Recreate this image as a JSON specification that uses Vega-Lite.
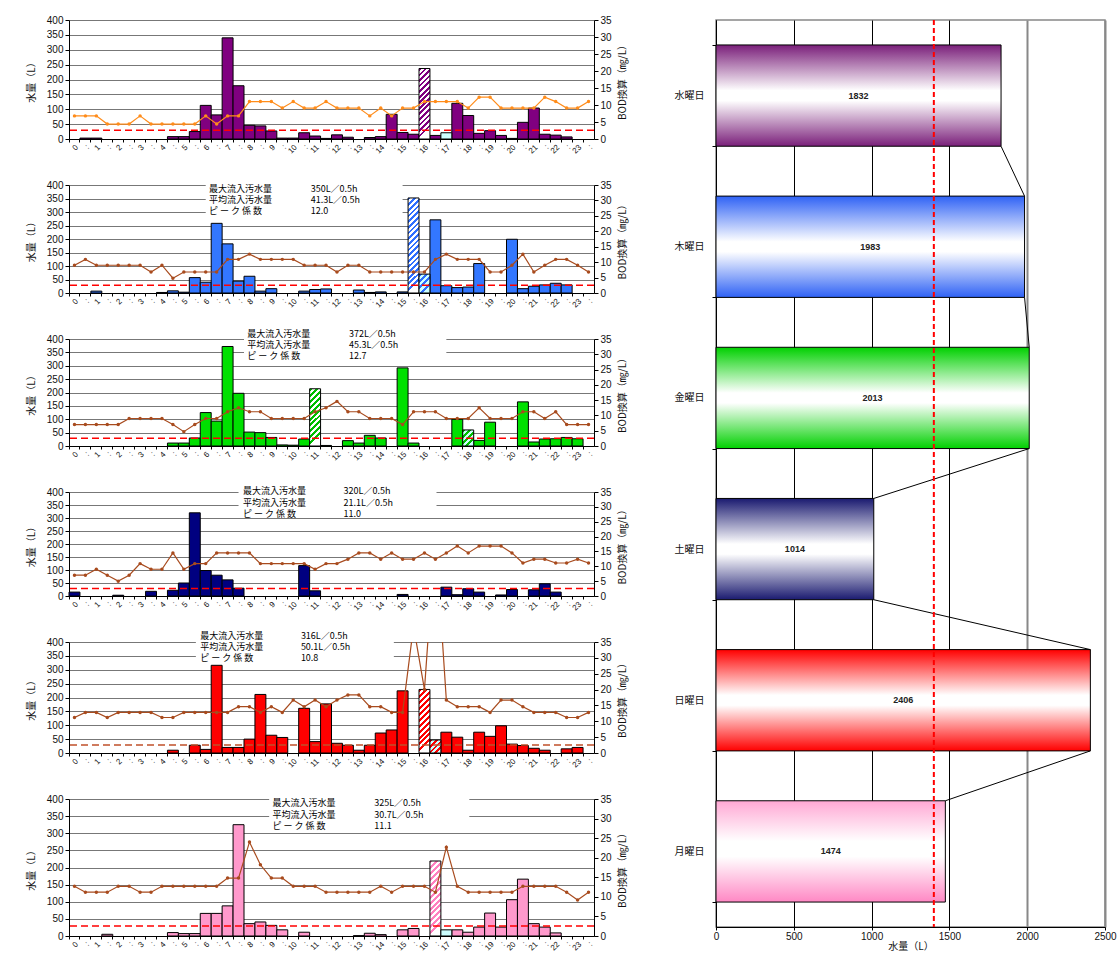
{
"$schema": "https://vega.github.io/schema/vega-lite/v6.json",
"background": "#ffffff",
"padding": {"left": 26, "top": 14, "right": 5, "bottom": 0},
"spacing": 45,
"config": {
 "view": {"stroke": null},
 "font": "Liberation Sans",
 "axis": {"labelFont": "Liberation Sans", "labelFontSize": 10, "labelColor": "#111", "titleFont": "Noto Sans CJK JP", "titleFontSize": 10, "titleFontWeight": "normal", "titleColor": "#111", "domainColor": "#000", "tickColor": "#000", "gridColor": "#777", "gridWidth": 1, "labelPadding": 2, "titlePadding": 10},
 "axisLeft": {"tickCount": 8, "labelOverlap": false},
 "axisRight": {"tickCount": 7, "labelOverlap": false},
 "text": {"font": "Noto Sans CJK JP"}
},
"datasets": {
 "p1": [{"t":0,"q":0,"b":6.8},{"t":1,"q":3,"b":6.8},{"t":2,"q":3,"b":6.8},{"t":3,"q":0,"b":4.4},{"t":4,"q":0,"b":4.4},{"t":5,"q":0,"b":4.4},{"t":6,"q":0,"b":6.8},{"t":7,"q":0,"b":4.4},{"t":8,"q":0,"b":4.4},{"t":9,"q":8,"b":4.4},{"t":10,"q":8,"b":4.4},{"t":11,"q":25,"b":4.4},{"t":12,"q":113,"b":6.8},{"t":13,"q":81,"b":4.4},{"t":14,"q":340,"b":6.8},{"t":15,"q":179,"b":6.8},{"t":16,"q":46,"b":11},{"t":17,"q":44,"b":11},{"t":18,"q":27,"b":11},{"t":19,"q":3,"b":9.1},{"t":20,"q":3,"b":11},{"t":21,"q":21,"b":9.1},{"t":22,"q":10,"b":9.1},{"t":23,"q":2,"b":11},{"t":24,"q":14,"b":9.1},{"t":25,"q":6,"b":9.1},{"t":26,"q":0,"b":9.1},{"t":27,"q":5,"b":6.8},{"t":28,"q":8,"b":9.1},{"t":29,"q":83,"b":6.8},{"t":30,"q":22,"b":9.1},{"t":31,"q":16,"b":9.1},{"t":32,"q":237,"b":11,"k":"h"},{"t":33,"q":12,"b":11},{"t":34,"q":21,"b":11,"k":"c"},{"t":35,"q":120,"b":11},{"t":36,"q":79,"b":9.1},{"t":37,"q":19,"b":12.3},{"t":38,"q":28,"b":12.3},{"t":39,"q":12,"b":9.1},{"t":40,"q":2,"b":9.1},{"t":41,"q":56,"b":9.1},{"t":42,"q":104,"b":9.1},{"t":43,"q":16,"b":12.3},{"t":44,"q":13,"b":11},{"t":45,"q":7,"b":9.1},{"t":46,"q":0,"b":9.1},{"t":47,"q":0,"b":11}],
 "p2": [{"t":0,"q":0,"b":9},{"t":1,"q":0,"b":10.9},{"t":2,"q":7,"b":9},{"t":3,"q":0,"b":9},{"t":4,"q":0,"b":9},{"t":5,"q":0,"b":9},{"t":6,"q":0,"b":9},{"t":7,"q":0,"b":6.8},{"t":8,"q":2,"b":9},{"t":9,"q":8,"b":4.8},{"t":10,"q":3,"b":6.8},{"t":11,"q":57,"b":6.8},{"t":12,"q":40,"b":6.8},{"t":13,"q":258,"b":6.8},{"t":14,"q":182,"b":10.9},{"t":15,"q":44,"b":10.9},{"t":16,"q":62,"b":12.6},{"t":17,"q":7,"b":10.9},{"t":18,"q":16,"b":10.9},{"t":19,"q":0,"b":10.9},{"t":20,"q":0,"b":10.9},{"t":21,"q":7,"b":9},{"t":22,"q":13,"b":9},{"t":23,"q":15,"b":9},{"t":24,"q":0,"b":6.8},{"t":25,"q":0,"b":9},{"t":26,"q":11,"b":9},{"t":27,"q":2,"b":6.8},{"t":28,"q":4,"b":6.8},{"t":29,"q":0,"b":6.8},{"t":30,"q":4,"b":6.8},{"t":31,"q":352,"b":6.8,"k":"h"},{"t":32,"q":70,"b":6.8,"k":"c"},{"t":33,"q":271,"b":10.9},{"t":34,"q":27,"b":12.6},{"t":35,"q":20,"b":10.9},{"t":36,"q":22,"b":10.9},{"t":37,"q":109,"b":10.9},{"t":38,"q":0,"b":6.8},{"t":39,"q":0,"b":6.8},{"t":40,"q":199,"b":9},{"t":41,"q":16,"b":12.6},{"t":42,"q":25,"b":6.8},{"t":43,"q":30,"b":9},{"t":44,"q":36,"b":10.9},{"t":45,"q":30,"b":10.9},{"t":46,"q":0,"b":9},{"t":47,"q":0,"b":6.8}],
 "p3": [{"t":0,"q":0,"b":7},{"t":1,"q":0,"b":7},{"t":2,"q":0,"b":7},{"t":3,"q":0,"b":7},{"t":4,"q":0,"b":7},{"t":5,"q":0,"b":9},{"t":6,"q":0,"b":9},{"t":7,"q":0,"b":9},{"t":8,"q":0,"b":9},{"t":9,"q":11,"b":7},{"t":10,"q":11,"b":4.7},{"t":11,"q":30,"b":7},{"t":12,"q":125,"b":9},{"t":13,"q":93,"b":9},{"t":14,"q":372,"b":11.2},{"t":15,"q":197,"b":12.5},{"t":16,"q":52,"b":11.2},{"t":17,"q":50,"b":11.2},{"t":18,"q":32,"b":9},{"t":19,"q":4,"b":9},{"t":20,"q":3,"b":9},{"t":21,"q":26,"b":9},{"t":22,"q":214,"b":11.2,"k":"h"},{"t":23,"q":2,"b":12.5},{"t":24,"q":0,"b":14.6},{"t":25,"q":20,"b":11.2},{"t":26,"q":11,"b":11.2},{"t":27,"q":40,"b":9},{"t":28,"q":30,"b":9},{"t":29,"q":0,"b":9},{"t":30,"q":292,"b":7},{"t":31,"q":11,"b":11.2},{"t":32,"q":0,"b":11.2},{"t":33,"q":0,"b":11.2},{"t":34,"q":0,"b":9},{"t":35,"q":100,"b":9},{"t":36,"q":60,"b":9,"k":"c"},{"t":37,"q":21,"b":12.5},{"t":38,"q":89,"b":9},{"t":39,"q":0,"b":9},{"t":40,"q":0,"b":9},{"t":41,"q":165,"b":11.2},{"t":42,"q":15,"b":11.2},{"t":43,"q":26,"b":9},{"t":44,"q":27,"b":11.2},{"t":45,"q":32,"b":7},{"t":46,"q":27,"b":7},{"t":47,"q":0,"b":7}],
 "p4": [{"t":0,"q":15,"b":7},{"t":1,"q":0,"b":7},{"t":2,"q":0,"b":9},{"t":3,"q":0,"b":7},{"t":4,"q":3,"b":5},{"t":5,"q":0,"b":7},{"t":6,"q":0,"b":10.9},{"t":7,"q":18,"b":9},{"t":8,"q":0,"b":9},{"t":9,"q":22,"b":14.5},{"t":10,"q":50,"b":9},{"t":11,"q":320,"b":10.9},{"t":12,"q":98,"b":10.9},{"t":13,"q":80,"b":14.5},{"t":14,"q":62,"b":14.5},{"t":15,"q":30,"b":14.5},{"t":16,"q":0,"b":14.5},{"t":17,"q":0,"b":10.9},{"t":18,"q":0,"b":10.9},{"t":19,"q":0,"b":10.9},{"t":20,"q":0,"b":10.9},{"t":21,"q":117,"b":10.9},{"t":22,"q":20,"b":9},{"t":23,"q":0,"b":10.9},{"t":24,"q":0,"b":10.9},{"t":25,"q":0,"b":12.4},{"t":26,"q":0,"b":14.5},{"t":27,"q":0,"b":14.5},{"t":28,"q":0,"b":12.4},{"t":29,"q":0,"b":14.5},{"t":30,"q":6,"b":12.4},{"t":31,"q":0,"b":12.4},{"t":32,"q":0,"b":14.5},{"t":33,"q":0,"b":12.4},{"t":34,"q":34,"b":14.5},{"t":35,"q":5,"b":16.8},{"t":36,"q":28,"b":14.5},{"t":37,"q":15,"b":16.8},{"t":38,"q":0,"b":16.8},{"t":39,"q":4,"b":16.8},{"t":40,"q":25,"b":14.5},{"t":41,"q":0,"b":11.1},{"t":42,"q":24,"b":12.4},{"t":43,"q":47,"b":12.4},{"t":44,"q":15,"b":11.1},{"t":45,"q":0,"b":11.1},{"t":46,"q":0,"b":12.4},{"t":47,"q":0,"b":11.1}],
 "p5": [{"t":0,"q":0,"b":11.2},{"t":1,"q":0,"b":12.8},{"t":2,"q":0,"b":12.8},{"t":3,"q":0,"b":11.2},{"t":4,"q":0,"b":12.8},{"t":5,"q":0,"b":12.8},{"t":6,"q":0,"b":12.8},{"t":7,"q":0,"b":12.8},{"t":8,"q":0,"b":11.2},{"t":9,"q":10,"b":11.2},{"t":10,"q":0,"b":12.8},{"t":11,"q":28,"b":12.8},{"t":12,"q":13,"b":12.8},{"t":13,"q":316,"b":12.8},{"t":14,"q":20,"b":12.8},{"t":15,"q":20,"b":14.6},{"t":16,"q":50,"b":14.6},{"t":17,"q":211,"b":12.8},{"t":18,"q":64,"b":14.6},{"t":19,"q":56,"b":12.8},{"t":20,"q":0,"b":16.7},{"t":21,"q":161,"b":14.6},{"t":22,"q":41,"b":16.7},{"t":23,"q":177,"b":14.6},{"t":24,"q":35,"b":16.7},{"t":25,"q":28,"b":18.3},{"t":26,"q":10,"b":18.3},{"t":27,"q":28,"b":14.6},{"t":28,"q":72,"b":14.6},{"t":29,"q":83,"b":12.8},{"t":30,"q":224,"b":12.8},{"t":31,"q":0,"b":40},{"t":32,"q":229,"b":20,"k":"h"},{"t":33,"q":47,"b":69,"k":"c"},{"t":34,"q":75,"b":16.7},{"t":35,"q":57,"b":14.6},{"t":36,"q":10,"b":14.6},{"t":37,"q":75,"b":14.6},{"t":38,"q":60,"b":12.8},{"t":39,"q":98,"b":16.7},{"t":40,"q":32,"b":16.7},{"t":41,"q":27,"b":14.6},{"t":42,"q":17,"b":12.8},{"t":43,"q":10,"b":12.8},{"t":44,"q":0,"b":12.8},{"t":45,"q":15,"b":11.2},{"t":46,"q":20,"b":11.2},{"t":47,"q":0,"b":12.8}],
 "p6": [{"t":0,"q":0,"b":12.7},{"t":1,"q":0,"b":11.2},{"t":2,"q":0,"b":11.2},{"t":3,"q":5,"b":11.2},{"t":4,"q":0,"b":12.7},{"t":5,"q":0,"b":12.7},{"t":6,"q":0,"b":11.2},{"t":7,"q":0,"b":11.2},{"t":8,"q":0,"b":12.7},{"t":9,"q":10,"b":12.7},{"t":10,"q":7,"b":12.7},{"t":11,"q":7,"b":12.7},{"t":12,"q":66,"b":12.7},{"t":13,"q":66,"b":12.7},{"t":14,"q":88,"b":14.8},{"t":15,"q":325,"b":14.8},{"t":16,"q":36,"b":24},{"t":17,"q":41,"b":18.2},{"t":18,"q":31,"b":14.8},{"t":19,"q":18,"b":14.8},{"t":20,"q":0,"b":12.7},{"t":21,"q":11,"b":12.7},{"t":22,"q":0,"b":12.7},{"t":23,"q":0,"b":11.2},{"t":24,"q":0,"b":11.2},{"t":25,"q":0,"b":11.2},{"t":26,"q":1,"b":11.2},{"t":27,"q":8,"b":11.2},{"t":28,"q":4,"b":12.7},{"t":29,"q":0,"b":11.2},{"t":30,"q":18,"b":12.7},{"t":31,"q":22,"b":12.7},{"t":32,"q":0,"b":12.7},{"t":33,"q":219,"b":11.2,"k":"h"},{"t":34,"q":18,"b":22.7,"k":"c"},{"t":35,"q":18,"b":12.7},{"t":36,"q":11,"b":11.2},{"t":37,"q":26,"b":11.2},{"t":38,"q":67,"b":11.2},{"t":39,"q":26,"b":11.2},{"t":40,"q":106,"b":11.2},{"t":41,"q":166,"b":12.7},{"t":42,"q":36,"b":12.7},{"t":43,"q":26,"b":12.7},{"t":44,"q":9,"b":12.7},{"t":45,"q":0,"b":11.2},{"t":46,"q":0,"b":9.2},{"t":47,"q":0,"b":11.2}],
 "days": [{"d":"水曜日","v":1832},{"d":"木曜日","v":1983},{"d":"金曜日","v":2013},{"d":"土曜日","v":1014},{"d":"日曜日","v":2406},{"d":"月曜日","v":1474}]
},
"hconcat": [
 {"bounds": "flush", "spacing": 46, "vconcat": [
  {"width": 525, "height": 119, "data": {"name": "p1"},
   "layer": [
    {"layer": [
     {"transform": [{"filter": "datum.q > 0 && !datum.k"}], "mark": {"type": "bar", "fill": "#800080", "stroke": "#000", "strokeWidth": 1},
      "encoding": {"x": {"field": "t", "type": "ordinal", "scale": {"paddingInner": 0, "paddingOuter": 0}, "axis": {"title": null, "labelAngle": -45, "labelFontSize": 8, "labelExpr": "datum.value % 2 == 0 ? toString(datum.value / 2) : ':'", "bandPosition": 0, "tickSize": 3, "labelPadding": 1}},
       "y": {"field": "q", "type": "quantitative", "scale": {"domain": [0, 400]}, "axis": {"title": "水量（L）", "grid": true, "tickSize": 4}}}},
     {"transform": [{"filter": "datum.k == 'h'"}], "mark": {"type": "bar", "stroke": "#000", "strokeWidth": 1, "fill": {"gradient": "linear", "x1": 0, "y1": 0, "x2": 0.155, "y2": 1, "stops": [{"offset":0,"color":"#800080"},{"offset":0.0385,"color":"#800080"},{"offset":0.0385,"color":"#fff"},{"offset":0.0769,"color":"#fff"},{"offset":0.0769,"color":"#800080"},{"offset":0.1154,"color":"#800080"},{"offset":0.1154,"color":"#fff"},{"offset":0.1538,"color":"#fff"},{"offset":0.1538,"color":"#800080"},{"offset":0.1923,"color":"#800080"},{"offset":0.1923,"color":"#fff"},{"offset":0.2308,"color":"#fff"},{"offset":0.2308,"color":"#800080"},{"offset":0.2692,"color":"#800080"},{"offset":0.2692,"color":"#fff"},{"offset":0.3077,"color":"#fff"},{"offset":0.3077,"color":"#800080"},{"offset":0.3462,"color":"#800080"},{"offset":0.3462,"color":"#fff"},{"offset":0.3846,"color":"#fff"},{"offset":0.3846,"color":"#800080"},{"offset":0.4231,"color":"#800080"},{"offset":0.4231,"color":"#fff"},{"offset":0.4615,"color":"#fff"},{"offset":0.4615,"color":"#800080"},{"offset":0.5,"color":"#800080"},{"offset":0.5,"color":"#fff"},{"offset":0.5385,"color":"#fff"},{"offset":0.5385,"color":"#800080"},{"offset":0.5769,"color":"#800080"},{"offset":0.5769,"color":"#fff"},{"offset":0.6154,"color":"#fff"},{"offset":0.6154,"color":"#800080"},{"offset":0.6538,"color":"#800080"},{"offset":0.6538,"color":"#fff"},{"offset":0.6923,"color":"#fff"},{"offset":0.6923,"color":"#800080"},{"offset":0.7308,"color":"#800080"},{"offset":0.7308,"color":"#fff"},{"offset":0.7692,"color":"#fff"},{"offset":0.7692,"color":"#800080"},{"offset":0.8077,"color":"#800080"},{"offset":0.8077,"color":"#fff"},{"offset":0.8462,"color":"#fff"},{"offset":0.8462,"color":"#800080"},{"offset":0.8846,"color":"#800080"},{"offset":0.8846,"color":"#fff"},{"offset":0.9231,"color":"#fff"},{"offset":0.9231,"color":"#800080"},{"offset":0.9615,"color":"#800080"},{"offset":0.9615,"color":"#fff"},{"offset":1,"color":"#fff"}]}},
      "encoding": {"x": {"field": "t", "type": "ordinal"}, "y": {"field": "q", "type": "quantitative"}}},
     {"transform": [{"filter": "datum.k == 'c'"}], "mark": {"type": "bar", "fill": "#CCFFFF", "stroke": "#000", "strokeWidth": 1},
      "encoding": {"x": {"field": "t", "type": "ordinal"}, "y": {"field": "q", "type": "quantitative"}}},
     {"data": {"values": [{}]}, "mark": {"type": "rule", "stroke": "#FF0000", "strokeDash": [7, 4], "strokeWidth": 1.5}, "encoding": {"y": {"datum": 29, "type": "quantitative"}}}
    ]},
    {"layer": [
     {"mark": {"type": "line", "stroke": "#FF8C1A", "strokeWidth": 1.2, "clip": true},
      "encoding": {"x": {"field": "t", "type": "ordinal"}, "y": {"field": "b", "type": "quantitative", "scale": {"domain": [0, 35]}, "axis": {"orient": "right", "title": "BOD換算（㎎/L）", "titleAngle": -90, "titleBaseline": "top", "titlePadding": 6, "grid": false, "tickSize": 4}}}},
     {"mark": {"type": "point", "filled": true, "fill": "#FF8C1A", "size": 12, "opacity": 1, "clip": true},
      "encoding": {"x": {"field": "t", "type": "ordinal"}, "y": {"field": "b", "type": "quantitative"}}}
    ]}
   ],
   "resolve": {"scale": {"y": "independent"}}},

  {"width": 525, "height": 108, "data": {"name": "p2"},
   "layer": [
    {"layer": [
     {"transform": [{"filter": "datum.q > 0 && !datum.k"}], "mark": {"type": "bar", "fill": "#3377FF", "stroke": "#000", "strokeWidth": 1},
      "encoding": {"x": {"field": "t", "type": "ordinal", "scale": {"paddingInner": 0, "paddingOuter": 0}, "axis": {"title": null, "labelAngle": -45, "labelFontSize": 8, "labelExpr": "datum.value % 2 == 0 ? toString(datum.value / 2) : ':'", "bandPosition": 0, "tickSize": 3, "labelPadding": 1}},
       "y": {"field": "q", "type": "quantitative", "scale": {"domain": [0, 400]}, "axis": {"title": "水量（L）", "grid": true, "tickSize": 4}}}},
     {"transform": [{"filter": "datum.k == 'h'"}], "mark": {"type": "bar", "stroke": "#000", "strokeWidth": 1, "fill": {"gradient": "linear", "x1": 0, "y1": 0, "x2": 0.115, "y2": 1, "stops": [{"offset":0,"color":"#2F6FFF"},{"offset":0.0294,"color":"#2F6FFF"},{"offset":0.0294,"color":"#fff"},{"offset":0.0588,"color":"#fff"},{"offset":0.0588,"color":"#2F6FFF"},{"offset":0.0882,"color":"#2F6FFF"},{"offset":0.0882,"color":"#fff"},{"offset":0.1176,"color":"#fff"},{"offset":0.1176,"color":"#2F6FFF"},{"offset":0.1471,"color":"#2F6FFF"},{"offset":0.1471,"color":"#fff"},{"offset":0.1765,"color":"#fff"},{"offset":0.1765,"color":"#2F6FFF"},{"offset":0.2059,"color":"#2F6FFF"},{"offset":0.2059,"color":"#fff"},{"offset":0.2353,"color":"#fff"},{"offset":0.2353,"color":"#2F6FFF"},{"offset":0.2647,"color":"#2F6FFF"},{"offset":0.2647,"color":"#fff"},{"offset":0.2941,"color":"#fff"},{"offset":0.2941,"color":"#2F6FFF"},{"offset":0.3235,"color":"#2F6FFF"},{"offset":0.3235,"color":"#fff"},{"offset":0.3529,"color":"#fff"},{"offset":0.3529,"color":"#2F6FFF"},{"offset":0.3824,"color":"#2F6FFF"},{"offset":0.3824,"color":"#fff"},{"offset":0.4118,"color":"#fff"},{"offset":0.4118,"color":"#2F6FFF"},{"offset":0.4412,"color":"#2F6FFF"},{"offset":0.4412,"color":"#fff"},{"offset":0.4706,"color":"#fff"},{"offset":0.4706,"color":"#2F6FFF"},{"offset":0.5,"color":"#2F6FFF"},{"offset":0.5,"color":"#fff"},{"offset":0.5294,"color":"#fff"},{"offset":0.5294,"color":"#2F6FFF"},{"offset":0.5588,"color":"#2F6FFF"},{"offset":0.5588,"color":"#fff"},{"offset":0.5882,"color":"#fff"},{"offset":0.5882,"color":"#2F6FFF"},{"offset":0.6176,"color":"#2F6FFF"},{"offset":0.6176,"color":"#fff"},{"offset":0.6471,"color":"#fff"},{"offset":0.6471,"color":"#2F6FFF"},{"offset":0.6765,"color":"#2F6FFF"},{"offset":0.6765,"color":"#fff"},{"offset":0.7059,"color":"#fff"},{"offset":0.7059,"color":"#2F6FFF"},{"offset":0.7353,"color":"#2F6FFF"},{"offset":0.7353,"color":"#fff"},{"offset":0.7647,"color":"#fff"},{"offset":0.7647,"color":"#2F6FFF"},{"offset":0.7941,"color":"#2F6FFF"},{"offset":0.7941,"color":"#fff"},{"offset":0.8235,"color":"#fff"},{"offset":0.8235,"color":"#2F6FFF"},{"offset":0.8529,"color":"#2F6FFF"},{"offset":0.8529,"color":"#fff"},{"offset":0.8824,"color":"#fff"},{"offset":0.8824,"color":"#2F6FFF"},{"offset":0.9118,"color":"#2F6FFF"},{"offset":0.9118,"color":"#fff"},{"offset":0.9412,"color":"#fff"},{"offset":0.9412,"color":"#2F6FFF"},{"offset":0.9706,"color":"#2F6FFF"},{"offset":0.9706,"color":"#fff"},{"offset":1,"color":"#fff"}]}},
      "encoding": {"x": {"field": "t", "type": "ordinal"}, "y": {"field": "q", "type": "quantitative"}}},
     {"transform": [{"filter": "datum.k == 'c'"}], "mark": {"type": "bar", "stroke": "#000", "strokeWidth": 1, "fill": {"gradient": "linear", "x1": 0, "y1": 0, "x2": 0.58, "y2": 1, "stops": [{"offset":0,"color":"#2F6FFF"},{"offset":0.125,"color":"#2F6FFF"},{"offset":0.125,"color":"#CCFFFF"},{"offset":0.25,"color":"#CCFFFF"},{"offset":0.25,"color":"#2F6FFF"},{"offset":0.375,"color":"#2F6FFF"},{"offset":0.375,"color":"#CCFFFF"},{"offset":0.5,"color":"#CCFFFF"},{"offset":0.5,"color":"#2F6FFF"},{"offset":0.625,"color":"#2F6FFF"},{"offset":0.625,"color":"#CCFFFF"},{"offset":0.75,"color":"#CCFFFF"},{"offset":0.75,"color":"#2F6FFF"},{"offset":0.875,"color":"#2F6FFF"},{"offset":0.875,"color":"#CCFFFF"},{"offset":1,"color":"#CCFFFF"}]}},
      "encoding": {"x": {"field": "t", "type": "ordinal"}, "y": {"field": "q", "type": "quantitative"}}},
     {"data": {"values": [{}]}, "mark": {"type": "rule", "stroke": "#FF0000", "strokeDash": [7, 4], "strokeWidth": 1.5}, "encoding": {"y": {"datum": 29, "type": "quantitative"}}},
     {"data": {"values": [{}]}, "mark": {"type": "rect", "fill": "#fff"}, "encoding": {"x": {"datum": 12, "type": "ordinal", "bandPosition": 0.5}, "x2": {"datum": 30, "bandPosition": 0.5}, "y": {"datum": 405, "type": "quantitative"}, "y2": {"datum": 292}}},
     {"data": {"values": [{}]}, "mark": {"type": "text", "align": "left", "baseline": "top", "fontSize": 9, "lineHeight": 11, "fill": "#000", "text": ["最大流入汚水量", "平均流入汚水量", "ピ ー ク 係 数"]}, "encoding": {"x": {"datum": 12, "type": "ordinal", "bandPosition": 0.8}, "y": {"datum": 400, "type": "quantitative"}}},
     {"data": {"values": [{}]}, "mark": {"type": "text", "align": "left", "baseline": "top", "fontSize": 9, "lineHeight": 11, "fill": "#000", "text": ["350L／0.5h", "41.3L／0.5h", "12.0"]}, "encoding": {"x": {"datum": 22, "type": "ordinal", "bandPosition": 0.1}, "y": {"datum": 400, "type": "quantitative"}}}
    ]},
    {"layer": [
     {"mark": {"type": "line", "stroke": "#A84B1E", "strokeWidth": 1.2, "clip": true},
      "encoding": {"x": {"field": "t", "type": "ordinal"}, "y": {"field": "b", "type": "quantitative", "scale": {"domain": [0, 35]}, "axis": {"orient": "right", "title": "BOD換算（㎎/L）", "titleAngle": -90, "titleBaseline": "top", "titlePadding": 6, "grid": false, "tickSize": 4}}}},
     {"mark": {"type": "point", "filled": true, "fill": "#A84B1E", "size": 12, "opacity": 1, "clip": true},
      "encoding": {"x": {"field": "t", "type": "ordinal"}, "y": {"field": "b", "type": "quantitative"}}}
    ]}
   ],
   "resolve": {"scale": {"y": "independent"}}},

  {"width": 525, "height": 107, "data": {"name": "p3"},
   "layer": [
    {"layer": [
     {"transform": [{"filter": "datum.q > 0 && !datum.k"}], "mark": {"type": "bar", "fill": "#00E000", "stroke": "#000", "strokeWidth": 1},
      "encoding": {"x": {"field": "t", "type": "ordinal", "scale": {"paddingInner": 0, "paddingOuter": 0}, "axis": {"title": null, "labelAngle": -45, "labelFontSize": 8, "labelExpr": "datum.value % 2 == 0 ? toString(datum.value / 2) : ':'", "bandPosition": 0, "tickSize": 3, "labelPadding": 1}},
       "y": {"field": "q", "type": "quantitative", "scale": {"domain": [0, 400]}, "axis": {"title": "水量（L）", "grid": true, "tickSize": 4}}}},
     {"transform": [{"filter": "datum.k == 'h'"}], "mark": {"type": "bar", "stroke": "#000", "strokeWidth": 1, "fill": {"gradient": "linear", "x1": 0, "y1": 0, "x2": 0.19, "y2": 1, "stops": [{"offset":0,"color":"#00C000"},{"offset":0.05,"color":"#00C000"},{"offset":0.05,"color":"#fff"},{"offset":0.1,"color":"#fff"},{"offset":0.1,"color":"#00C000"},{"offset":0.15,"color":"#00C000"},{"offset":0.15,"color":"#fff"},{"offset":0.2,"color":"#fff"},{"offset":0.2,"color":"#00C000"},{"offset":0.25,"color":"#00C000"},{"offset":0.25,"color":"#fff"},{"offset":0.3,"color":"#fff"},{"offset":0.3,"color":"#00C000"},{"offset":0.35,"color":"#00C000"},{"offset":0.35,"color":"#fff"},{"offset":0.4,"color":"#fff"},{"offset":0.4,"color":"#00C000"},{"offset":0.45,"color":"#00C000"},{"offset":0.45,"color":"#fff"},{"offset":0.5,"color":"#fff"},{"offset":0.5,"color":"#00C000"},{"offset":0.55,"color":"#00C000"},{"offset":0.55,"color":"#fff"},{"offset":0.6,"color":"#fff"},{"offset":0.6,"color":"#00C000"},{"offset":0.65,"color":"#00C000"},{"offset":0.65,"color":"#fff"},{"offset":0.7,"color":"#fff"},{"offset":0.7,"color":"#00C000"},{"offset":0.75,"color":"#00C000"},{"offset":0.75,"color":"#fff"},{"offset":0.8,"color":"#fff"},{"offset":0.8,"color":"#00C000"},{"offset":0.85,"color":"#00C000"},{"offset":0.85,"color":"#fff"},{"offset":0.9,"color":"#fff"},{"offset":0.9,"color":"#00C000"},{"offset":0.95,"color":"#00C000"},{"offset":0.95,"color":"#fff"},{"offset":1,"color":"#fff"}]}},
      "encoding": {"x": {"field": "t", "type": "ordinal"}, "y": {"field": "q", "type": "quantitative"}}},
     {"transform": [{"filter": "datum.k == 'c'"}], "mark": {"type": "bar", "stroke": "#000", "strokeWidth": 1, "fill": {"gradient": "linear", "x1": 0, "y1": 0, "x2": 0.68, "y2": 1, "stops": [{"offset":0,"color":"#00C000"},{"offset":0.125,"color":"#00C000"},{"offset":0.125,"color":"#CCFFFF"},{"offset":0.25,"color":"#CCFFFF"},{"offset":0.25,"color":"#00C000"},{"offset":0.375,"color":"#00C000"},{"offset":0.375,"color":"#CCFFFF"},{"offset":0.5,"color":"#CCFFFF"},{"offset":0.5,"color":"#00C000"},{"offset":0.625,"color":"#00C000"},{"offset":0.625,"color":"#CCFFFF"},{"offset":0.75,"color":"#CCFFFF"},{"offset":0.75,"color":"#00C000"},{"offset":0.875,"color":"#00C000"},{"offset":0.875,"color":"#CCFFFF"},{"offset":1,"color":"#CCFFFF"}]}},
      "encoding": {"x": {"field": "t", "type": "ordinal"}, "y": {"field": "q", "type": "quantitative"}}},
     {"data": {"values": [{}]}, "mark": {"type": "rule", "stroke": "#FF0000", "strokeDash": [7, 4], "strokeWidth": 1.5}, "encoding": {"y": {"datum": 29, "type": "quantitative"}}},
     {"data": {"values": [{}]}, "mark": {"type": "rect", "fill": "#fff"}, "encoding": {"x": {"datum": 16, "type": "ordinal", "bandPosition": 0}, "x2": {"datum": 34, "bandPosition": 0.5}, "y": {"datum": 438, "type": "quantitative"}, "y2": {"datum": 318}}},
     {"data": {"values": [{}]}, "mark": {"type": "text", "align": "left", "baseline": "top", "fontSize": 9, "lineHeight": 11, "fill": "#000", "text": ["最大流入汚水量", "平均流入汚水量", "ピ ー ク 係 数"]}, "encoding": {"x": {"datum": 16, "type": "ordinal", "bandPosition": 0.3}, "y": {"datum": 434, "type": "quantitative"}}},
     {"data": {"values": [{}]}, "mark": {"type": "text", "align": "left", "baseline": "top", "fontSize": 9, "lineHeight": 11, "fill": "#000", "text": ["372L／0.5h", "45.3L／0.5h", "12.7"]}, "encoding": {"x": {"datum": 25, "type": "ordinal", "bandPosition": 0.6}, "y": {"datum": 434, "type": "quantitative"}}}
    ]},
    {"layer": [
     {"mark": {"type": "line", "stroke": "#A84B1E", "strokeWidth": 1.2, "clip": true},
      "encoding": {"x": {"field": "t", "type": "ordinal"}, "y": {"field": "b", "type": "quantitative", "scale": {"domain": [0, 35]}, "axis": {"orient": "right", "title": "BOD換算（㎎/L）", "titleAngle": -90, "titleBaseline": "top", "titlePadding": 6, "grid": false, "tickSize": 4}}}},
     {"mark": {"type": "point", "filled": true, "fill": "#A84B1E", "size": 12, "opacity": 1, "clip": true},
      "encoding": {"x": {"field": "t", "type": "ordinal"}, "y": {"field": "b", "type": "quantitative"}}}
    ]}
   ],
   "resolve": {"scale": {"y": "independent"}}},

  {"width": 525, "height": 104, "data": {"name": "p4"},
   "layer": [
    {"layer": [
     {"transform": [{"filter": "datum.q > 0 && !datum.k"}], "mark": {"type": "bar", "fill": "#000080", "stroke": "#000", "strokeWidth": 1},
      "encoding": {"x": {"field": "t", "type": "ordinal", "scale": {"paddingInner": 0, "paddingOuter": 0}, "axis": {"title": null, "labelAngle": -45, "labelFontSize": 8, "labelExpr": "datum.value % 2 == 0 ? toString(datum.value / 2) : ':'", "bandPosition": 0, "tickSize": 3, "labelPadding": 1}},
       "y": {"field": "q", "type": "quantitative", "scale": {"domain": [0, 400]}, "axis": {"title": "水量（L）", "grid": true, "tickSize": 4}}}},
     {"data": {"values": [{}]}, "mark": {"type": "rule", "stroke": "#FF0000", "strokeDash": [7, 4], "strokeWidth": 1.5}, "encoding": {"y": {"datum": 29, "type": "quantitative"}}},
     {"data": {"values": [{}]}, "mark": {"type": "rect", "fill": "#fff"}, "encoding": {"x": {"datum": 15, "type": "ordinal", "bandPosition": 0.5}, "x2": {"datum": 33, "bandPosition": 0.6}, "y": {"datum": 419, "type": "quantitative"}, "y2": {"datum": 300}}},
     {"data": {"values": [{}]}, "mark": {"type": "text", "align": "left", "baseline": "top", "fontSize": 9, "lineHeight": 11.5, "fill": "#000", "text": ["最大流入汚水量", "平均流入汚水量", "ピ ー ク 係 数"]}, "encoding": {"x": {"datum": 15, "type": "ordinal", "bandPosition": 0.9}, "y": {"datum": 419, "type": "quantitative"}}},
     {"data": {"values": [{}]}, "mark": {"type": "text", "align": "left", "baseline": "top", "fontSize": 9, "lineHeight": 11.5, "fill": "#000", "text": ["320L／0.5h", "21.1L／0.5h", "11.0"]}, "encoding": {"x": {"datum": 25, "type": "ordinal", "bandPosition": 0.1}, "y": {"datum": 419, "type": "quantitative"}}}
    ]},
    {"layer": [
     {"mark": {"type": "line", "stroke": "#A84B1E", "strokeWidth": 1.2, "clip": true},
      "encoding": {"x": {"field": "t", "type": "ordinal"}, "y": {"field": "b", "type": "quantitative", "scale": {"domain": [0, 35]}, "axis": {"orient": "right", "title": "BOD換算（㎎/L）", "titleAngle": -90, "titleBaseline": "top", "titlePadding": 6, "grid": false, "tickSize": 4}}}},
     {"mark": {"type": "point", "filled": true, "fill": "#A84B1E", "size": 12, "opacity": 1, "clip": true},
      "encoding": {"x": {"field": "t", "type": "ordinal"}, "y": {"field": "b", "type": "quantitative"}}}
    ]}
   ],
   "resolve": {"scale": {"y": "independent"}}},

  {"width": 525, "height": 111, "data": {"name": "p5"},
   "layer": [
    {"layer": [
     {"transform": [{"filter": "datum.q > 0 && !datum.k"}], "mark": {"type": "bar", "fill": "#FF0000", "stroke": "#000", "strokeWidth": 1},
      "encoding": {"x": {"field": "t", "type": "ordinal", "scale": {"paddingInner": 0, "paddingOuter": 0}, "axis": {"title": null, "labelAngle": -45, "labelFontSize": 8, "labelExpr": "datum.value % 2 == 0 ? toString(datum.value / 2) : ':'", "bandPosition": 0, "tickSize": 3, "labelPadding": 1}},
       "y": {"field": "q", "type": "quantitative", "scale": {"domain": [0, 400]}, "axis": {"title": "水量（L）", "grid": true, "tickSize": 4}}}},
     {"transform": [{"filter": "datum.k == 'h'"}], "mark": {"type": "bar", "stroke": "#000", "strokeWidth": 1, "fill": {"gradient": "linear", "x1": 0, "y1": 0, "x2": 0.172, "y2": 1, "stops": [{"offset":0,"color":"#FF0000"},{"offset":0.0455,"color":"#FF0000"},{"offset":0.0455,"color":"#fff"},{"offset":0.0909,"color":"#fff"},{"offset":0.0909,"color":"#FF0000"},{"offset":0.1364,"color":"#FF0000"},{"offset":0.1364,"color":"#fff"},{"offset":0.1818,"color":"#fff"},{"offset":0.1818,"color":"#FF0000"},{"offset":0.2273,"color":"#FF0000"},{"offset":0.2273,"color":"#fff"},{"offset":0.2727,"color":"#fff"},{"offset":0.2727,"color":"#FF0000"},{"offset":0.3182,"color":"#FF0000"},{"offset":0.3182,"color":"#fff"},{"offset":0.3636,"color":"#fff"},{"offset":0.3636,"color":"#FF0000"},{"offset":0.4091,"color":"#FF0000"},{"offset":0.4091,"color":"#fff"},{"offset":0.4545,"color":"#fff"},{"offset":0.4545,"color":"#FF0000"},{"offset":0.5,"color":"#FF0000"},{"offset":0.5,"color":"#fff"},{"offset":0.5455,"color":"#fff"},{"offset":0.5455,"color":"#FF0000"},{"offset":0.5909,"color":"#FF0000"},{"offset":0.5909,"color":"#fff"},{"offset":0.6364,"color":"#fff"},{"offset":0.6364,"color":"#FF0000"},{"offset":0.6818,"color":"#FF0000"},{"offset":0.6818,"color":"#fff"},{"offset":0.7273,"color":"#fff"},{"offset":0.7273,"color":"#FF0000"},{"offset":0.7727,"color":"#FF0000"},{"offset":0.7727,"color":"#fff"},{"offset":0.8182,"color":"#fff"},{"offset":0.8182,"color":"#FF0000"},{"offset":0.8636,"color":"#FF0000"},{"offset":0.8636,"color":"#fff"},{"offset":0.9091,"color":"#fff"},{"offset":0.9091,"color":"#FF0000"},{"offset":0.9545,"color":"#FF0000"},{"offset":0.9545,"color":"#fff"},{"offset":1,"color":"#fff"}]}},
      "encoding": {"x": {"field": "t", "type": "ordinal"}, "y": {"field": "q", "type": "quantitative"}}},
     {"transform": [{"filter": "datum.k == 'c'"}], "mark": {"type": "bar", "stroke": "#000", "strokeWidth": 1, "fill": {"gradient": "linear", "x1": 0, "y1": 0, "x2": 0.84, "y2": 1, "stops": [{"offset":0,"color":"#FF0000"},{"offset":0.125,"color":"#FF0000"},{"offset":0.125,"color":"#CCFFFF"},{"offset":0.25,"color":"#CCFFFF"},{"offset":0.25,"color":"#FF0000"},{"offset":0.375,"color":"#FF0000"},{"offset":0.375,"color":"#CCFFFF"},{"offset":0.5,"color":"#CCFFFF"},{"offset":0.5,"color":"#FF0000"},{"offset":0.625,"color":"#FF0000"},{"offset":0.625,"color":"#CCFFFF"},{"offset":0.75,"color":"#CCFFFF"},{"offset":0.75,"color":"#FF0000"},{"offset":0.875,"color":"#FF0000"},{"offset":0.875,"color":"#CCFFFF"},{"offset":1,"color":"#CCFFFF"}]}},
      "encoding": {"x": {"field": "t", "type": "ordinal"}, "y": {"field": "q", "type": "quantitative"}}},
     {"data": {"values": [{}]}, "mark": {"type": "rule", "stroke": "#C0502A", "strokeDash": [7, 4], "strokeWidth": 1.5}, "encoding": {"y": {"datum": 29, "type": "quantitative"}}},
     {"data": {"values": [{}]}, "mark": {"type": "rect", "fill": "#fff"}, "encoding": {"x": {"datum": 11, "type": "ordinal", "bandPosition": 0.6}, "x2": {"datum": 29, "bandPosition": 0.7}, "y": {"datum": 440, "type": "quantitative"}, "y2": {"datum": 325}}},
     {"data": {"values": [{}]}, "mark": {"type": "text", "align": "left", "baseline": "top", "fontSize": 9, "lineHeight": 11, "fill": "#000", "text": ["最大流入汚水量", "平均流入汚水量", "ピ ー ク 係 数"]}, "encoding": {"x": {"datum": 12, "type": "ordinal", "bandPosition": 0}, "y": {"datum": 436, "type": "quantitative"}}},
     {"data": {"values": [{}]}, "mark": {"type": "text", "align": "left", "baseline": "top", "fontSize": 9, "lineHeight": 11, "fill": "#000", "text": ["316L／0.5h", "50.1L／0.5h", "10.8"]}, "encoding": {"x": {"datum": 21, "type": "ordinal", "bandPosition": 0.2}, "y": {"datum": 436, "type": "quantitative"}}}
    ]},
    {"layer": [
     {"mark": {"type": "line", "stroke": "#A84B1E", "strokeWidth": 1.2, "clip": true},
      "encoding": {"x": {"field": "t", "type": "ordinal"}, "y": {"field": "b", "type": "quantitative", "scale": {"domain": [0, 35]}, "axis": {"orient": "right", "title": "BOD換算（㎎/L）", "titleAngle": -90, "titleBaseline": "top", "titlePadding": 6, "grid": false, "tickSize": 4}}}},
     {"mark": {"type": "point", "filled": true, "fill": "#A84B1E", "size": 12, "opacity": 1, "clip": true},
      "encoding": {"x": {"field": "t", "type": "ordinal"}, "y": {"field": "b", "type": "quantitative"}}}
    ]}
   ],
   "resolve": {"scale": {"y": "independent"}}},

  {"width": 525, "height": 137, "data": {"name": "p6"},
   "layer": [
    {"layer": [
     {"transform": [{"filter": "datum.q > 0 && !datum.k"}], "mark": {"type": "bar", "fill": "#FF99CC", "stroke": "#000", "strokeWidth": 1},
      "encoding": {"x": {"field": "t", "type": "ordinal", "scale": {"paddingInner": 0, "paddingOuter": 0}, "axis": {"title": null, "labelAngle": -45, "labelFontSize": 8, "labelExpr": "datum.value % 2 == 0 ? toString(datum.value / 2) : ':'", "bandPosition": 0, "tickSize": 3, "labelPadding": 1}},
       "y": {"field": "q", "type": "quantitative", "scale": {"domain": [0, 400]}, "axis": {"title": "水量（L）", "grid": true, "tickSize": 4}}}},
     {"transform": [{"filter": "datum.k == 'h'"}], "mark": {"type": "bar", "stroke": "#000", "strokeWidth": 1, "fill": {"gradient": "linear", "x1": 0, "y1": 0, "x2": 0.146, "y2": 1, "stops": [{"offset":0,"color":"#FF80BF"},{"offset":0.0385,"color":"#FF80BF"},{"offset":0.0385,"color":"#fff"},{"offset":0.0769,"color":"#fff"},{"offset":0.0769,"color":"#FF80BF"},{"offset":0.1154,"color":"#FF80BF"},{"offset":0.1154,"color":"#fff"},{"offset":0.1538,"color":"#fff"},{"offset":0.1538,"color":"#FF80BF"},{"offset":0.1923,"color":"#FF80BF"},{"offset":0.1923,"color":"#fff"},{"offset":0.2308,"color":"#fff"},{"offset":0.2308,"color":"#FF80BF"},{"offset":0.2692,"color":"#FF80BF"},{"offset":0.2692,"color":"#fff"},{"offset":0.3077,"color":"#fff"},{"offset":0.3077,"color":"#FF80BF"},{"offset":0.3462,"color":"#FF80BF"},{"offset":0.3462,"color":"#fff"},{"offset":0.3846,"color":"#fff"},{"offset":0.3846,"color":"#FF80BF"},{"offset":0.4231,"color":"#FF80BF"},{"offset":0.4231,"color":"#fff"},{"offset":0.4615,"color":"#fff"},{"offset":0.4615,"color":"#FF80BF"},{"offset":0.5,"color":"#FF80BF"},{"offset":0.5,"color":"#fff"},{"offset":0.5385,"color":"#fff"},{"offset":0.5385,"color":"#FF80BF"},{"offset":0.5769,"color":"#FF80BF"},{"offset":0.5769,"color":"#fff"},{"offset":0.6154,"color":"#fff"},{"offset":0.6154,"color":"#FF80BF"},{"offset":0.6538,"color":"#FF80BF"},{"offset":0.6538,"color":"#fff"},{"offset":0.6923,"color":"#fff"},{"offset":0.6923,"color":"#FF80BF"},{"offset":0.7308,"color":"#FF80BF"},{"offset":0.7308,"color":"#fff"},{"offset":0.7692,"color":"#fff"},{"offset":0.7692,"color":"#FF80BF"},{"offset":0.8077,"color":"#FF80BF"},{"offset":0.8077,"color":"#fff"},{"offset":0.8462,"color":"#fff"},{"offset":0.8462,"color":"#FF80BF"},{"offset":0.8846,"color":"#FF80BF"},{"offset":0.8846,"color":"#fff"},{"offset":0.9231,"color":"#fff"},{"offset":0.9231,"color":"#FF80BF"},{"offset":0.9615,"color":"#FF80BF"},{"offset":0.9615,"color":"#fff"},{"offset":1,"color":"#fff"}]}},
      "encoding": {"x": {"field": "t", "type": "ordinal"}, "y": {"field": "q", "type": "quantitative"}}},
     {"transform": [{"filter": "datum.k == 'c'"}], "mark": {"type": "bar", "fill": "#CCFFFF", "stroke": "#000", "strokeWidth": 1},
      "encoding": {"x": {"field": "t", "type": "ordinal"}, "y": {"field": "q", "type": "quantitative"}}},
     {"data": {"values": [{}]}, "mark": {"type": "rule", "stroke": "#FF0000", "strokeDash": [7, 4], "strokeWidth": 1.5}, "encoding": {"y": {"datum": 29, "type": "quantitative"}}},
     {"data": {"values": [{}]}, "mark": {"type": "rect", "fill": "#fff"}, "encoding": {"x": {"datum": 18, "type": "ordinal", "bandPosition": 0.3}, "x2": {"datum": 36, "bandPosition": 0.6}, "y": {"datum": 408, "type": "quantitative"}, "y2": {"datum": 318}}},
     {"data": {"values": [{}]}, "mark": {"type": "text", "align": "left", "baseline": "top", "fontSize": 9, "lineHeight": 11.5, "fill": "#000", "text": ["最大流入汚水量", "平均流入汚水量", "ピ ー ク 係 数"]}, "encoding": {"x": {"datum": 18, "type": "ordinal", "bandPosition": 0.6}, "y": {"datum": 400, "type": "quantitative"}}},
     {"data": {"values": [{}]}, "mark": {"type": "text", "align": "left", "baseline": "top", "fontSize": 9, "lineHeight": 11.5, "fill": "#000", "text": ["325L／0.5h", "30.7L／0.5h", "11.1"]}, "encoding": {"x": {"datum": 27, "type": "ordinal", "bandPosition": 0.9}, "y": {"datum": 400, "type": "quantitative"}}}
    ]},
    {"layer": [
     {"mark": {"type": "line", "stroke": "#A84B1E", "strokeWidth": 1.2, "clip": true},
      "encoding": {"x": {"field": "t", "type": "ordinal"}, "y": {"field": "b", "type": "quantitative", "scale": {"domain": [0, 35]}, "axis": {"orient": "right", "title": "BOD換算（㎎/L）", "titleAngle": -90, "titleBaseline": "top", "titlePadding": 6, "grid": false, "tickSize": 4}}}},
     {"mark": {"type": "point", "filled": true, "fill": "#A84B1E", "size": 12, "opacity": 1, "clip": true},
      "encoding": {"x": {"field": "t", "type": "ordinal"}, "y": {"field": "b", "type": "quantitative"}}}
    ]}
   ],
   "resolve": {"scale": {"y": "independent"}}}
 ]},

 {"width": 389, "height": 907, "view": {"stroke": "#888", "strokeWidth": 1.5}, "data": {"name": "days"},
  "layer": [
   {"layer": [
    {"transform": [{"filter": "datum.d == '水曜日'"}], "mark": {"type": "bar", "stroke": "#000", "strokeWidth": 1, "fill": {"gradient": "linear", "x1": 0, "y1": 0, "x2": 0, "y2": 1, "stops": [{"offset": 0, "color": "#7A1F7A"}, {"offset": 0.45, "color": "#fff"}, {"offset": 0.55, "color": "#fff"}, {"offset": 1, "color": "#7A1F7A"}]}},
     "encoding": {"x": {"field": "v", "type": "quantitative", "scale": {"domain": [0, 2500], "nice": false}, "axis": {"title": "水量（L）", "values": [0,500,1000,1500,2000,2500], "format": "d", "grid": true, "gridColor": {"condition": {"test": "datum.value >= 2000", "value": "#888"}, "value": "#000"}, "gridWidth": {"condition": {"test": "datum.value >= 2000", "value": 2}, "value": 1}, "tickSize": 3, "labelFontSize": 10, "labelPadding": 1, "titlePadding": 0, "labelFlush": false}},
      "y": {"field": "d", "type": "nominal", "scale": {"domain": ["水曜日","木曜日","金曜日","土曜日","日曜日","月曜日"], "paddingInner": 0.33, "paddingOuter": 0.165}, "axis": {"title": null, "labelFont": "Noto Sans CJK JP", "labelFontSize": 10, "tickBand": "extent", "tickSize": 4, "labelPadding": 8}}}},
    {"transform": [{"filter": "datum.d == '木曜日'"}], "mark": {"type": "bar", "stroke": "#000", "strokeWidth": 1, "fill": {"gradient": "linear", "x1": 0, "y1": 0, "x2": 0, "y2": 1, "stops": [{"offset": 0, "color": "#2F62F5"}, {"offset": 0.45, "color": "#fff"}, {"offset": 0.55, "color": "#fff"}, {"offset": 1, "color": "#2F62F5"}]}},
     "encoding": {"x": {"field": "v", "type": "quantitative"}, "y": {"field": "d", "type": "nominal"}}},
    {"transform": [{"filter": "datum.d == '金曜日'"}], "mark": {"type": "bar", "stroke": "#000", "strokeWidth": 1, "fill": {"gradient": "linear", "x1": 0, "y1": 0, "x2": 0, "y2": 1, "stops": [{"offset": 0, "color": "#00D000"}, {"offset": 0.45, "color": "#fff"}, {"offset": 0.55, "color": "#fff"}, {"offset": 1, "color": "#00D000"}]}},
     "encoding": {"x": {"field": "v", "type": "quantitative"}, "y": {"field": "d", "type": "nominal"}}},
    {"transform": [{"filter": "datum.d == '土曜日'"}], "mark": {"type": "bar", "stroke": "#000", "strokeWidth": 1, "fill": {"gradient": "linear", "x1": 0, "y1": 0, "x2": 0, "y2": 1, "stops": [{"offset": 0, "color": "#1A1A70"}, {"offset": 0.45, "color": "#fff"}, {"offset": 0.55, "color": "#fff"}, {"offset": 1, "color": "#1A1A70"}]}},
     "encoding": {"x": {"field": "v", "type": "quantitative"}, "y": {"field": "d", "type": "nominal"}}},
    {"transform": [{"filter": "datum.d == '日曜日'"}], "mark": {"type": "bar", "stroke": "#000", "strokeWidth": 1, "fill": {"gradient": "linear", "x1": 0, "y1": 0, "x2": 0, "y2": 1, "stops": [{"offset": 0, "color": "#FF0000"}, {"offset": 0.45, "color": "#fff"}, {"offset": 0.55, "color": "#fff"}, {"offset": 1, "color": "#FF0000"}]}},
     "encoding": {"x": {"field": "v", "type": "quantitative"}, "y": {"field": "d", "type": "nominal"}}},
    {"transform": [{"filter": "datum.d == '月曜日'"}], "mark": {"type": "bar", "stroke": "#000", "strokeWidth": 1, "fill": {"gradient": "linear", "x1": 0, "y1": 0, "x2": 0, "y2": 1, "stops": [{"offset": 0, "color": "#FFA8D4"}, {"offset": 0.4, "color": "#fff"}, {"offset": 0.55, "color": "#fff"}, {"offset": 1, "color": "#FF88C4"}]}},
     "encoding": {"x": {"field": "v", "type": "quantitative"}, "y": {"field": "d", "type": "nominal"}}},
    {"data": {"values": [{"d":"水曜日","d2":"木曜日","va":1832,"vb":1983},{"d":"木曜日","d2":"金曜日","va":1983,"vb":2013},{"d":"金曜日","d2":"土曜日","va":2013,"vb":1014},{"d":"土曜日","d2":"日曜日","va":1014,"vb":2406},{"d":"日曜日","d2":"月曜日","va":2406,"vb":1474}]},
     "mark": {"type": "rule", "stroke": "#000", "strokeWidth": 1},
     "encoding": {"x": {"field": "va", "type": "quantitative"}, "x2": {"field": "vb"}, "y": {"field": "d", "type": "nominal", "bandPosition": 1}, "y2": {"field": "d2", "bandPosition": 0}}},
    {"data": {"values": [{}]}, "mark": {"type": "rule", "stroke": "#FF0000", "strokeDash": [5, 3], "strokeWidth": 2}, "encoding": {"x": {"datum": 1400, "type": "quantitative"}}}
   ]},
   {"mark": {"type": "text", "fontSize": 9, "font": "Liberation Sans", "fontWeight": "bold", "fill": "#222"},
    "encoding": {"x": {"field": "v", "type": "quantitative", "scale": {"domain": [0, 5000], "nice": false}, "axis": null}, "y": {"field": "d", "type": "nominal"}, "text": {"field": "v", "type": "quantitative"}}}
  ],
  "resolve": {"scale": {"x": "independent"}}}
]
}
